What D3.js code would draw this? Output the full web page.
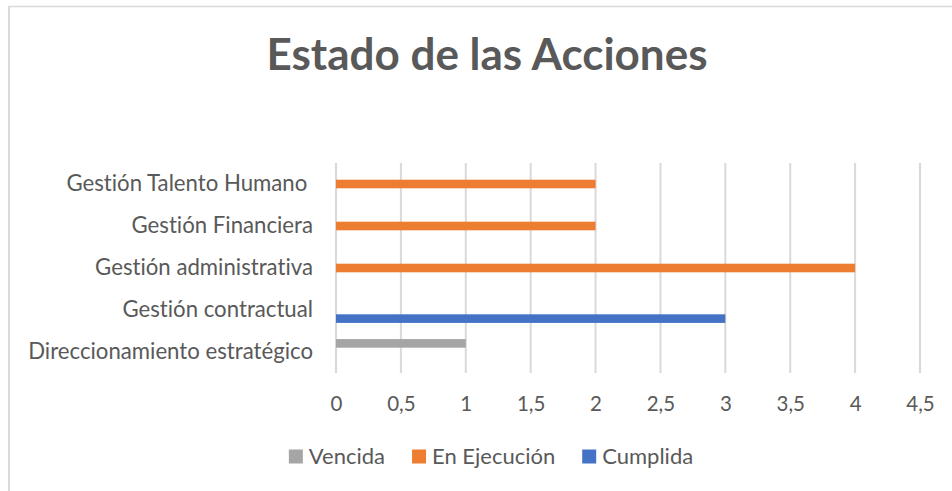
<!DOCTYPE html>
<html>
<head>
<meta charset="utf-8">
<script src="https://cdn.jsdelivr.net/npm/d3@7"></script>
<style>
    body { margin: 0; background: #fff; }
    text { font-family: Lato, 'Noto Sans', sans-serif; fill: #595959; white-space: pre; font-variant-ligatures: none; }
</style>
</head>
<body>
<div id="chart"></div>
<script>
// data:
let categories = ['Gestión Talento Humano ', 'Gestión Financiera', 'Gestión administrativa', 'Gestión contractual', 'Direccionamiento estratégico'];
let seriesNames = ['Vencida', 'En Ejecución', 'Cumplida'];
let vencida = [0, 0, 0, 0, 1];
let enEjecucion = [2, 2, 4, 0, 0];
let cumplida = [0, 0, 0, 3, 0];
let colors = ['#a5a5a5', '#ed7d31', '#4472c4'];
let xTicks = [0, 0.5, 1, 1.5, 2, 2.5, 3, 3.5, 4, 4.5];

// svg size:
let svgWidth = 952;
let svgHeight = 491;

// plot area:
let plot = { left: 336, right: 920, top: 163, bottom: 373 };

let svg = d3.select('#chart').append('svg')
    .attr('width', svgWidth)
    .attr('height', svgHeight);

// chart border (only top and left edge visible):
svg.append('line').attr('x1', 9).attr('x2', svgWidth).attr('y1', 6.5).attr('y2', 6.5)
    .attr('stroke', '#d9d9d9').attr('stroke-width', 1.5);
svg.append('line').attr('x1', 9).attr('x2', 9).attr('y1', 6).attr('y2', svgHeight)
    .attr('stroke', '#d9d9d9').attr('stroke-width', 2);

// title:
svg.append('text')
    .attr('x', 487)
    .attr('y', 70)
    .attr('text-anchor', 'middle')
    .attr('font-size', '44px')
    .attr('font-weight', 'bold')
    .text('Estado de las Acciones');

// scales:
let xScale = d3.scaleLinear().domain([0, 4.5]).range([plot.left, plot.right]);
let yScale = d3.scaleBand().domain(categories).range([plot.top, plot.bottom]).padding(0);
let ySub = d3.scaleBand().domain(seriesNames).range([0, yScale.bandwidth()])
    .paddingInner(0).paddingOuter(0.94);

// gridlines:
svg.append('g').selectAll('line')
    .data(xTicks)
    .enter()
    .append('line')
    .attr('x1', d => xScale(d))
    .attr('x2', d => xScale(d))
    .attr('y1', plot.top)
    .attr('y2', plot.bottom)
    .attr('stroke', '#d9d9d9')
    .attr('stroke-width', 2);

// x axis labels:
let xAxis = d3.axisBottom(xScale)
    .tickValues(xTicks)
    .tickSize(0)
    .tickPadding(0)
    .tickFormat(d => String(d).replace('.', ','));

let xAxisGroup = svg.append('g')
    .attr('transform', `translate(0, ${plot.bottom})`)
    .call(xAxis);
xAxisGroup.select('.domain').remove();
xAxisGroup.selectAll('text')
    .attr('font-family', null)
    .attr('font-size', '20.5px')
    .attr('fill', '#595959')
    .attr('dy', 0)
    .attr('y', 37.5);

// y axis labels:
let yAxis = d3.axisLeft(yScale).tickSize(0).tickPadding(0);
let yAxisGroup = svg.append('g')
    .attr('transform', `translate(313, 0)`)
    .call(yAxis);
yAxisGroup.select('.domain').remove();
yAxisGroup.selectAll('text')
    .attr('font-family', null)
    .attr('font-size', '22.2px')
    .attr('fill', '#595959')
    .attr('dy', '0.3em');

// bars:
let seriesData = [vencida, enEjecucion, cumplida];
seriesNames.forEach(function(name, i) {
    svg.append('g')
        .attr('fill', colors[i])
        .selectAll('rect')
        .data(seriesData[i])
        .enter()
        .append('rect')
        .attr('x', xScale(0))
        .attr('y', (d, j) => yScale(categories[j]) + ySub(name))
        .attr('width', d => xScale(d) - xScale(0))
        .attr('height', ySub.bandwidth());
});

// legend:
let legend = svg.append('g');
let items = legend.selectAll('g')
    .data(seriesNames)
    .enter()
    .append('g');

items.append('rect')
    .attr('width', 14)
    .attr('height', 14)
    .attr('y', 449.5)
    .attr('fill', (d, i) => colors[i]);

items.append('text')
    .attr('x', 20)
    .attr('y', 463.5)
    .attr('font-size', '22px')
    .text(d => d);

// position legend items, centered:
let offset = 0;
let widths = [];
items.each(function() {
    let w = 20 + d3.select(this).select('text').node().getComputedTextLength();
    widths.push(w);
});
let total = d3.sum(widths) + 27 * (widths.length - 1);
let startX = 491 - total / 2;
items.attr('transform', function(d, i) {
    let x = startX + offset;
    offset += widths[i] + 27;
    return `translate(${x}, 0)`;
});
</script>
</body>
</html>
